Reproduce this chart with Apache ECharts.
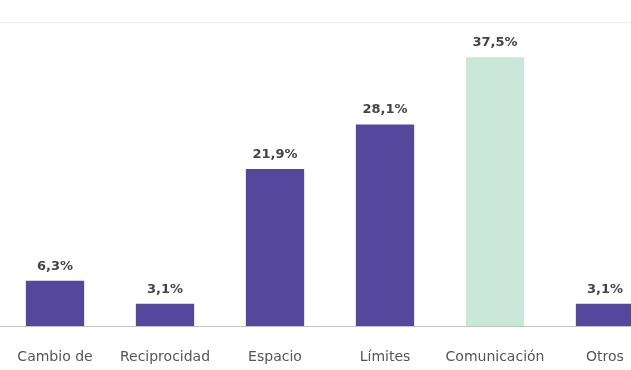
<!DOCTYPE html>
<html>
<head>
<meta charset="utf-8">
<script src="https://cdn.jsdelivr.net/npm/echarts@6/dist/echarts.min.js"></script>
<style>
  html, body { margin: 0; padding: 0; background: #ffffff; }
  #chart { width: 631px; height: 370px; }
</style>
</head>
<body>
<div id="chart"></div>
<script>
// Categories and percentages per category
const categories = ['Cambio de', 'Reciprocidad', 'Espacio', 'Límites', 'Comunicación', 'Otros'];
const values = [6.3, 3.1, 21.9, 28.1, 37.5, 3.1];
// Index of the highlighted category
const highlightIndex = 4;

const purple = '#54479c';
const mint = '#c9e7d9';

const chart = echarts.init(document.getElementById('chart'), null, { renderer: 'canvas' });

chart.setOption({
  animation: false,
  backgroundColor: '#ffffff',
  // plot area runs past the right edge so the last bar is cut off
  grid: {
    left: 0, width: 660, top: 22, bottom: 44,
    containLabel: false,
    outerBoundsMode: 'none'
  },
  xAxis: {
    type: 'category',
    data: categories,
    axisLine: { show: true, lineStyle: { color: '#c4c4c4', width: 1 } },
    axisTick: { show: false },
    axisLabel: {
      interval: 0,
      margin: 24,
      color: '#555555',
      fontFamily: 'DejaVu Sans',
      fontSize: 14
    }
  },
  yAxis: {
    type: 'value',
    min: 0,
    max: 42.4,
    interval: 42.4,
    axisLine: { show: false },
    axisTick: { show: false },
    axisLabel: { show: false },
    splitLine: { show: true, lineStyle: { color: '#f0f0f0', width: 1 } }
  },
  series: [{
    type: 'bar',
    barWidth: '53%',
    data: values.map((v, i) => ({
      value: v,
      itemStyle: { color: i === highlightIndex ? mint : purple }
    })),
    label: {
      show: true,
      position: 'top',
      distance: 8,
      color: '#444444',
      fontFamily: 'DejaVu Sans',
      fontSize: 13,
      fontWeight: 'bold',
      formatter: p => p.value.toFixed(1).replace('.', ',') + '%'
    }
  }]
});
</script>
</body>
</html>
